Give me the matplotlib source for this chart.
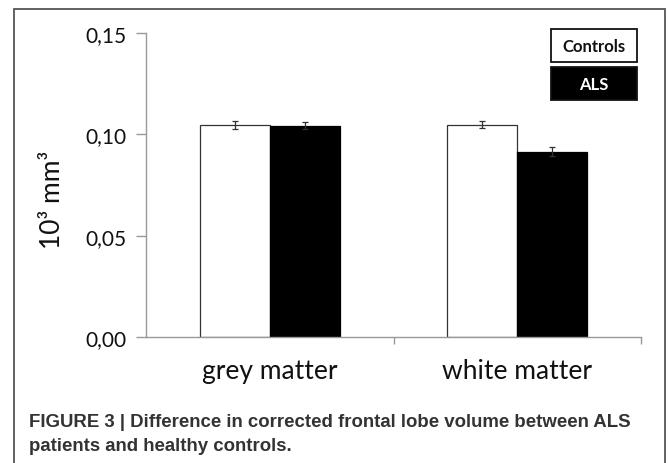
import matplotlib.pyplot as plt
from matplotlib.patches import Rectangle
from matplotlib.ticker import FixedLocator

# data (10^3 mm^3)
categories = ["grey matter", "white matter"]
series_names = ["Controls", "ALS"]
controls = [0.1048, 0.1048]
als = [0.1043, 0.0914]
controls_err = [0.0020, 0.0016]
als_err = [0.0018, 0.0023]
yticks = [0.00, 0.05, 0.10, 0.15]
ytick_labels = ["0,00", "0,05", "0,10", "0,15"]

W, H = 669, 464
fig = plt.figure(figsize=(W / 100, H / 100), dpi=100)
ax = fig.add_axes([146 / W, 1 - 338 / H, (641 - 146) / W, (338 - 34) / H])

width = 0.283
centers = [0.5 + i for i in range(len(categories))]
err_kw = dict(ecolor="#333333", elinewidth=0.9, capsize=2.2, capthick=0.9)
ax.bar([c - width / 2 for c in centers], controls, width, yerr=controls_err,
       color="white", edgecolor="#333333", linewidth=0.9, error_kw=err_kw)
ax.bar([c + width / 2 for c in centers], als, width, yerr=als_err,
       color="black", edgecolor="black", linewidth=0.9, error_kw=err_kw)

ax.set_xlim(0, 2)
ax.set_ylim(0, 0.15)
ax.set_yticks(yticks)
ax.set_yticklabels(ytick_labels, fontsize=15, family="Lato", color="#111111")
ax.set_xticks(centers)
ax.set_xticklabels(categories, fontsize=19, family="Lato", color="#111111")
ax.tick_params(axis="x", length=0, pad=15)
ax.xaxis.set_minor_locator(FixedLocator([1, 2]))
ax.tick_params(axis="x", which="minor", length=5, color="#999999", width=1)
ax.tick_params(axis="y", length=7, color="#999999", width=1, pad=7)

for side in ["top", "right"]:
    ax.spines[side].set_visible(False)
for side in ["left", "bottom"]:
    ax.spines[side].set_color("#999999")
    ax.spines[side].set_linewidth(1)

fig.text(53 / W, 1 - 200 / H, "10³ mm³", rotation=90, ha="center", va="center",
         fontsize=19, family="Lato", color="#111111")

# legend boxes
fills = ["white", "black"]
text_colors = ["#111111", "white"]
tops = [30, 68]
for name, fc, tc, top in zip(series_names, fills, text_colors, tops):
    fig.patches.append(Rectangle((551 / W, 1 - (top + 33) / H), 86 / W, 33 / H,
                                 transform=fig.transFigure, facecolor=fc,
                                 edgecolor="#111111", linewidth=1.3))
    fig.text(594 / W, 1 - (top + 16.5) / H, name, ha="center", va="center",
             fontsize=12, fontweight="bold", family="Lato", color=tc)

# outer frame
fig.patches.append(Rectangle((14 / W, -0.05), (665 - 14) / W, 1.05 - 10 / H,
                             transform=fig.transFigure, facecolor="none",
                             edgecolor="#555555", linewidth=1.3))

fig.text(29 / W, 1 - 423 / H,
         "FIGURE 3 | Difference in corrected frontal lobe volume between ALS",
         ha="left", va="center", fontsize=13.4, fontweight="bold",
         family="Liberation Sans", color="#333333")
fig.text(29 / W, 1 - 447 / H, "patients and healthy controls.",
         ha="left", va="center", fontsize=13.4, fontweight="bold",
         family="Liberation Sans", color="#333333")

fig.savefig("out.png", dpi=100)
